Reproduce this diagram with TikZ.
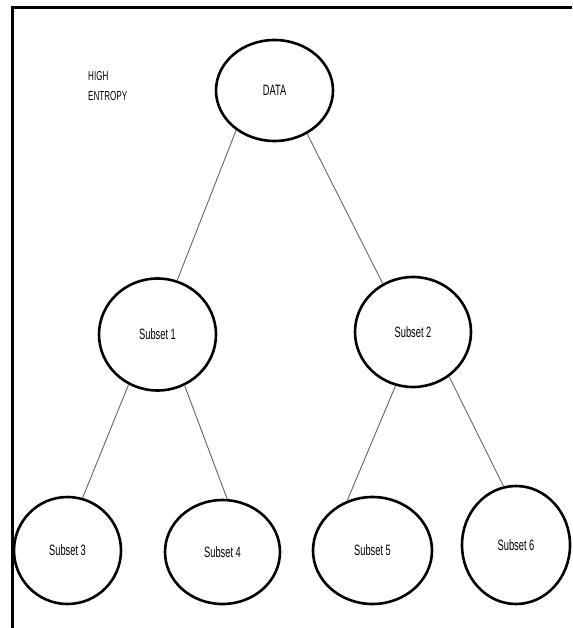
\documentclass[tikz,border=0pt]{standalone}
\usepackage{fontspec}
\setmainfont{Liberation Sans}
\usetikzlibrary{shapes.geometric}
\newcommand\cond[1]{\scalebox{0.62}[1]{#1}}
\begin{document}
\begin{tikzpicture}[x=1pt,y=-1pt,
  circ/.style={ellipse, draw, line width=2.6pt, inner sep=0pt, font=\fontsize{15}{17}\selectfont},
  link/.style={draw=black!60, line width=0.9pt},
  frame/.style={line width=3pt}]
\useasboundingbox (0,0) rectangle (572,628);
\fill[white] (0,0) rectangle (572,628);
\draw[frame] (12.5,628) |- (572,8);
\node[anchor=north west, inner sep=0pt, align=left, font=\fontsize{13}{20}\selectfont] (lbl) at (88,71) {\cond{HIGH}\\\cond{ENTROPY}};
\node[circ, minimum width=117pt, minimum height=101pt] (data) at (274.5,90.5) {\cond{DATA}};
\node[circ, minimum width=117pt, minimum height=112pt] (s1) at (157.5,334.5) {\cond{Subset 1}};
\node[circ, minimum width=116pt, minimum height=110pt] (s2) at (413,332) {\cond{Subset 2}};
\node[circ, minimum width=107pt, minimum height=107pt] (s3) at (67.5,550.5) {\cond{Subset 3}};
\node[circ, minimum width=115pt, minimum height=104pt] (s4) at (222.5,552) {\cond{Subset 4}};
\node[circ, minimum width=119pt, minimum height=107pt] (s5) at (372.5,550.5) {\cond{Subset 5}};
\node[circ, minimum width=108pt, minimum height=118pt] (s6) at (516,545) {\cond{Subset 6}};
\draw[link] (data.226) -- (s1.70);
\draw[link] (data.307) -- (s2.122);
\draw[link] (s1.240) -- (s3.74);
\draw[link] (s1.298) -- (s4.85);
\draw[link] (s2.252) -- (s5.117);
\draw[link] (s2.309) -- (s6.102);
\end{tikzpicture}
\end{document}
